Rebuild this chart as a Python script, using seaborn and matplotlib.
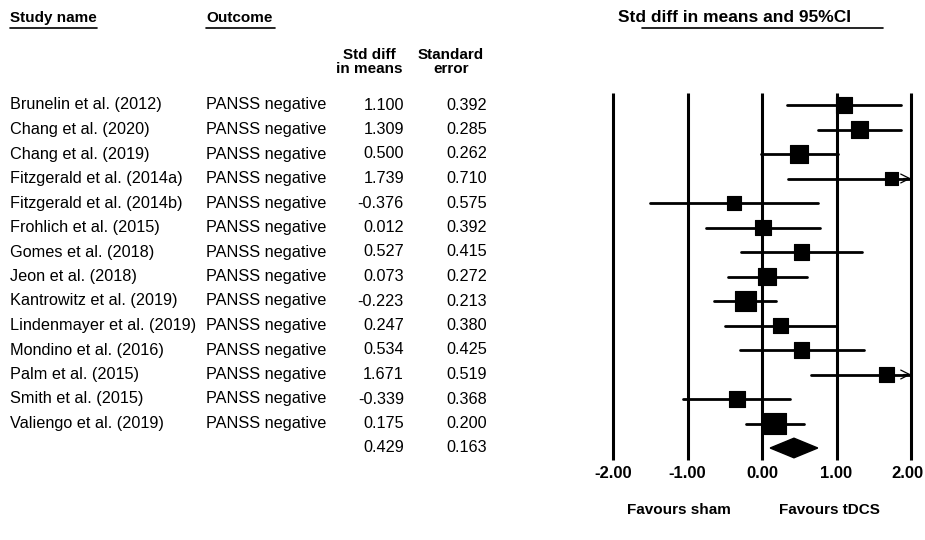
import numpy as np
import matplotlib
matplotlib.use("Agg")
import matplotlib.pyplot as plt
import matplotlib.transforms as mtransforms
import seaborn as sns
import pandas as pd

# ====================== data ======================
studies = ["Brunelin et al. (2012)", "Chang et al. (2020)", "Chang et al. (2019)",
           "Fitzgerald et al. (2014a)", "Fitzgerald et al. (2014b)", "Frohlich et al. (2015)",
           "Gomes et al. (2018)", "Jeon et al. (2018)", "Kantrowitz et al. (2019)",
           "Lindenmayer et al. (2019)", "Mondino et al. (2016)", "Palm et al. (2015)",
           "Smith et al. (2015)", "Valiengo et al. (2019)"]
outcome = "PANSS negative"
smd = [1.100, 1.309, 0.500, 1.739, -0.376, 0.012, 0.527, 0.073, -0.223, 0.247, 0.534, 1.671, -0.339, 0.175]
se = [0.392, 0.285, 0.262, 0.710, 0.575, 0.392, 0.415, 0.272, 0.213, 0.380, 0.425, 0.519, 0.368, 0.200]
pooled_smd = 0.429
pooled_se = 0.163
xticks = [-2, -1, 0, 1, 2]

df = pd.DataFrame({"study": studies, "smd": smd, "se": se})
df["row"] = np.arange(len(df))
df["lo"] = df["smd"] - 1.96 * df["se"]
df["hi"] = df["smd"] + 1.96 * df["se"]
df["w"] = 1 / df["se"] ** 2
pooled_row = len(df)

# ====================== style ======================
sns.set_theme(style="white")
plt.rcParams["font.family"] = ["Liberation Sans", "DejaVu Sans"]
plt.rcParams["text.color"] = "black"
plt.rcParams["xtick.color"] = "black"
W, H = 925, 540
fig = plt.figure(figsize=(W / 100, H / 100), dpi=100)


def px(x, y):
    return x / W, 1 - y / H


# forest axes: x -2..2 -> px 613..911 ; rows every 24.5 px starting at 105
ax_l, ax_r = 613, 911
ax_t, ax_b = 92.75, 460.25
ax = fig.add_axes([ax_l / W, 1 - ax_b / H, (ax_r - ax_l) / W, (ax_b - ax_t) / H])
ax.set_xlim(-2, 2)
ax.set_ylim(pooled_row + 0.5, -0.5)
for s in ax.spines.values():
    s.set_visible(False)

ax.vlines(xticks, pooled_row + 0.5, -0.5, color="black", lw=2.2, zorder=1, clip_on=False)

# CI lines, clipped at the axis with an open arrow head
for _, r in df.iterrows():
    lo, hi = max(r["lo"], -2), min(r["hi"], 2)
    ax.plot([lo, hi], [r["row"], r["row"]], color="black", lw=2, zorder=2)
    if r["hi"] > 2:
        ax.annotate("", xy=(2.0, r["row"]), xytext=(1.9, r["row"]),
                    arrowprops=dict(arrowstyle="->", lw=0.9, color="black",
                                    shrinkA=0, shrinkB=0, mutation_scale=16),
                    annotation_clip=False)

sns.scatterplot(data=df, x="smd", y="row", size="w", sizes=(95, 240), marker="s",
                color="black", edgecolor="black", legend=False, ax=ax, zorder=3, clip_on=False)

# pooled diamond
plo, phi = pooled_smd - 1.96 * pooled_se, pooled_smd + 1.96 * pooled_se
ax.fill([plo, pooled_smd, phi, pooled_smd], [pooled_row, pooled_row - 0.4, pooled_row, pooled_row + 0.4],
        color="black", zorder=3)

ax.set_xticks(xticks)
ax.set_xticklabels([f"{t:.2f}" for t in xticks], fontsize=12, fontweight="bold")
ax.tick_params(axis="x", length=0, pad=4)
# keep the last label inside the canvas
last = ax.get_xticklabels()[-1]
last.set_transform(last.get_transform() + mtransforms.ScaledTranslation(-4 / 100, 0, fig.dpi_scale_trans))
ax.set_yticks([])
ax.set_xlabel("")
ax.set_ylabel("")

# ====================== text columns ======================
fs = 11.7
for i, (name, d, s) in enumerate(zip(studies, smd, se)):
    y = 105 + 24.5 * i
    fig.text(*px(10, y), name, fontsize=fs, va="center", ha="left")
    fig.text(*px(206, y), outcome, fontsize=fs, va="center", ha="left")
    fig.text(*px(404, y), f"{d:.3f}", fontsize=fs, va="center", ha="right")
    fig.text(*px(487, y), f"{s:.3f}", fontsize=fs, va="center", ha="right")
y = 105 + 24.5 * pooled_row
fig.text(*px(404, y), f"{pooled_smd:.3f}", fontsize=fs, va="center", ha="right")
fig.text(*px(487, y), f"{pooled_se:.3f}", fontsize=fs, va="center", ha="right")

# headers
hb = dict(fontweight="bold", va="center")
fig.text(*px(10, 18), "Study name", ha="left", fontsize=11, **hb)
fig.text(*px(206, 18), "Outcome", ha="left", fontsize=11, **hb)
fig.text(*px(369, 62), "Std diff\nin means", ha="center", fontsize=11, linespacing=1.0, **hb)
fig.text(*px(451, 62), "Standard\nerror", ha="center", fontsize=11, linespacing=1.0, **hb)
fig.text(*px(618, 18), "Std diff in means and 95%CI", ha="left", fontsize=12.5, **hb)
fig.text(*px(679, 510), "Favours sham", ha="center", fontsize=11, **hb)
fig.text(*px(829, 510), "Favours tDCS", ha="center", fontsize=11, **hb)

# underlines
for x0, x1 in [(10, 97), (206, 275), (642, 883)]:
    fig.add_artist(plt.Line2D([x0 / W, x1 / W], [1 - 28 / H, 1 - 28 / H], color="black", lw=1.2))

fig.savefig("out.png", dpi=100)
